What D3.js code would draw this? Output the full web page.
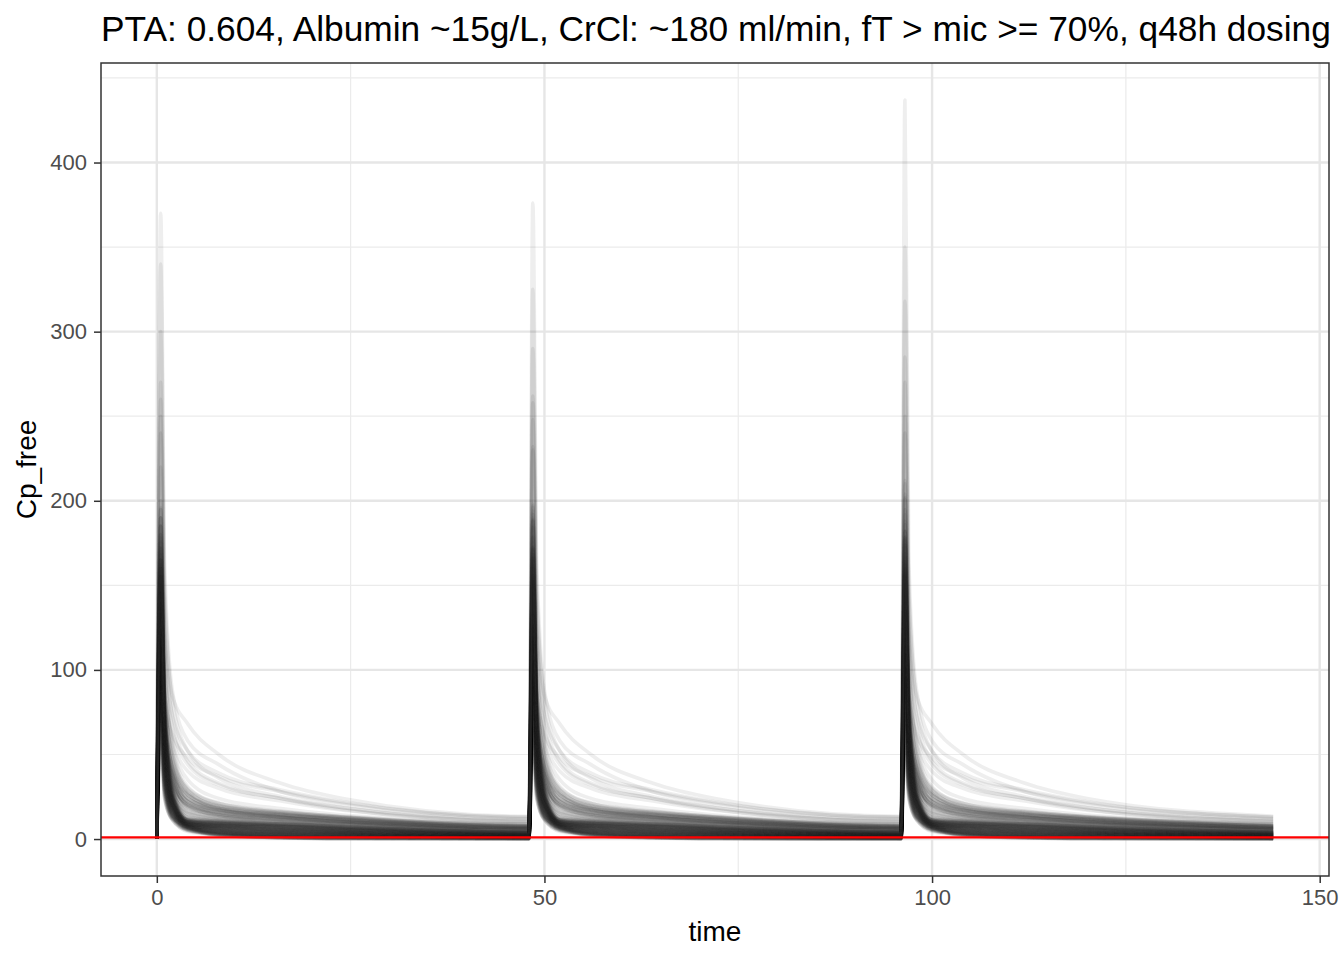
<!DOCTYPE html>
<html>
<head>
<meta charset="utf-8">
<script src="https://cdn.jsdelivr.net/npm/d3@7"></script>
<style>
  html, body { margin: 0; padding: 0; background: #ffffff; }
  svg { display: block; font-family: "Liberation Sans", Arial, Helvetica, sans-serif; }
</style>
</head>
<body>
<svg id="chart" width="1344" height="960"></svg>
<script>
// ---------------- data ----------------
const chartTitle = "PTA: 0.604, Albumin ~15g/L, CrCl: ~180 ml/min, fT > mic >= 70%, q48h dosing";
const xLabel = "time";
const yLabel = "Cp_free";
const doseTimes = [0, 48, 96];               // q48h dosing
const infusionHours = 0.5;                   // peak time after each dose
const sampleHours = [1, 2, 4, 8, 16, 24, 48]; // hours after dose
const micValue = 1;
const xTicks = [0, 50, 100, 150];
const yTicks = [0, 100, 200, 300, 400];

// peak free concentration of each simulated subject, per dose
const peakDose1 = [62,118,145,88,170,104,132,76, 95,150,70,126,180,110,58,138, 128,84,160,100,66,142,115,190,
  108,74,135,155,92,122,168,80, 148,98,60,130,112,176,86,140, 82,125,158,102,144,68,120,196,
  136,90,114,165,78,150,106,128, 72,146,124,96,185,116,154,64, 118,160,88,140,105,132,74,172,
  94,128,152,70,118,200,100,142, 150,84,112,134,162,96,124,56, 106,138,78,156,122,90,178,130,
  130,150,110,165,145,120,158,100,140,165,135,115,155,140,125,175,130,150,105,160,145,130,162,138,
  180,150,185,135,240,165,195,125,190,170,260,145,172,155,185,195,
  270,370,220,300,190,340,250,160];
const peakDose2 = [68,110,149,83,179,101,139,70, 101,142,74,121,189,107,65,132, 134,76,164,95,75,139,122,184,
  114,66,139,150,101,119,175,74, 154,90,64,125,121,173,93,134, 88,117,162,97,153,65,127,190,
  142,82,118,160,87,147,113,122, 78,138,128,91,194,113,161,58, 124,152,92,135,114,129,81,166,
  100,120,156,65,127,197,107,136, 156,76,116,129,171,93,131,50, 112,130,82,151,131,87,185,124,
  136,144,116,158,152,114,166,106,134,172,129,121,148,146,119,168,136,143,111,154,152,124,170,132,
  172,158,178,142,232,171,188,132,196,164,248,150,166,148,192,188,
  262,376,230,290,198,325,258,168];
const peakDose3 = [57,125,136,92,164,114,128,81, 90,157,61,130,174,120,54,143, 123,91,151,104,60,152,111,195,
  103,81,126,159,86,132,164,85, 143,105,51,134,106,186,82,145, 77,132,149,106,138,78,116,201,
  131,97,105,169,72,160,102,133, 67,153,115,100,179,126,150,69, 113,167,79,144,99,142,70,177,
  89,135,143,74,112,210,96,147, 145,91,103,138,156,106,120,61, 101,145,69,160,116,100,174,135,
  124,156,104,172,138,126,150,95,146,158,141,109,162,134,131,182,124,157,99,166,138,136,154,144,
  188,144,192,128,250,158,204,118,182,176,270,139,178,162,178,202,
  285,437,212,318,182,350,240,155];

// concentrations after each dose (same subject order)
const conc1h = [26,50,61,37,71,44,55,32, 40,63,29,53,76,46,24,58, 54,35,67,42,28,60,48,80,
  45,31,57,65,39,51,71,34, 62,41,25,55,47,74,36,59, 34,53,66,43,60,29,50,82,
  57,38,48,69,33,63,45,54, 30,61,52,40,78,49,65,27, 50,67,37,59,44,55,31,72,
  39,54,64,29,50,84,42,60, 63,35,47,56,68,40,52,24, 45,58,33,66,51,38,75,55,
  58,68,52,74,65,56,71,50,64,74,63,56,70,64,60,78,62,68,54,72,66,62,73,65,
  82,70,86,64,108,78,90,60,88,80,115,69,82,74,86,90,
  128,165,112,145,98,150,120,86];
const conc2h = [11.7,19.5,23.3,15.3,26.8,17.6,21.5,13.6, 16.3,24,12.8,20.6,28.2,18.4,11.1,22.3,
  20.9,14.8,25.4,17,12.2,22.9,19.1,29.6, 18.1,13.4,21.9,24.7,15.9,20.1,26.5,14.2,
  23.7,16.7,11.4,21.2,18.7,27.6,15,22.6, 14.5,20.5,25.1,17.3,23.2,12.5,19.8,30.4,
  22,15.6,19,26.1,13.9,24,17.8,20.9, 13.1,23.4,20.4,16.4,28.9,19.2,24.6,12,
  19.5,25.4,15.3,22.6,17.7,21.5,13.4,27.1, 16.2,20.9,24.3,12.8,19.5,31,17,22.9,
  24,14.8,18.7,21.8,25.7,16.4,20.4,11.9, 17.8,22.3,13.9,24.8,20.1,15.6,27.9,21.2,
  26,30,25,34,29,28,34,27,33,38,31,30,37,34,32,42,35,38,32,42,39,36,43,40,
  40,36,48,34,53,41,46,33,50,43,56,38,50,42,47,58,
  72,88,66,85,60,82,74,62];
const conc4h = [4.46,6.18,7.05,5.35,7.87,5.94,6.81,5.19, 5.78,7.49,5.15,6.84,8.53,6.47,4.94,7.41,
  7.15,5.86,8.21,6.45,5.47,7.81,7.06,9.33, 6.93,5.98,7.85,8.48,6.66,7.6,9.04,6.44,
  8.55,7.09,6.02,8.15,7.68,9.64,6.98,8.66, 6.99,8.32,9.38,7.73,9.06,6.82,8.45,10.76,
  9.03,7.69,8.48,10.04,7.5,9.73,8.45,9.18, 7.53,9.82,9.23,8.43,11.17,9.13,10.34,7.71,
  9.37,10.7,8.61,10.2,9.22,10.1,8.43,11.41, 9.14,10.23,10.98,8.59,10.1,12.63,9.7,11,
  11.31,9.4,10.31,11,11.91,10,10.91,8.91, 10.48,11.51,9.78,12.19,11.24,10.35,13.06,11.69,
  13,14,14.5,15.5,15,16,17,16.5,18,19,18.5,19,20,20.5,20,22,22,22.5,21,24,24,23.5,26,26,
  22,20,27,19.5,29,24,26,21,28,26,31,23,30,27,29,35,
  46,58,44,68,40,52,52,48];
const conc8h = [2.14,2.2,2.3,2.33,2.43,2.52,2.58,2.68, 2.73,2.83,2.93,2.96,3.08,3.15,3.21,3.34,
  3.4,3.46,3.59,3.65,3.74,3.84,3.94,3.99, 4.09,4.22,4.28,4.34,4.47,4.53,4.66,4.72,
  4.85,4.91,5.04,5.1,5.23,5.29,5.38,5.48, 5.6,5.67,5.79,5.86,5.98,6.05,6.17,6.23,
  6.36,6.42,6.55,6.61,6.74,6.86,6.93,7.05, 6.9,7.24,7.37,7.43,7.56,7.62,7.75,7.1,
  7.94,8.06,7.9,8.25,8.38,8.5,7.75,8.69, 8.4,8.94,9.01,7.9,9.26,9.38,8.9,9.57,
  9.7,8.65,9.5,10.01,10.14,9.2,10,8.2, 9.6,10.6,9,10.96,10.3,9.5,11.34,10.75,
  10.5,11,11.5,12,12.2,12.8,13,13.2,13.8,14,14.3,14.8,15,15.5,15.8,16,16.5,17,17,17.5,18,18.2,19,19.5,
  15,14,18,14.5,19,17,17.5,16,19.5,18.5,21,17.2,21.5,20,21,24,
  33,44,32,50,30,36,39,37];
const conc16h = [0.58,0.63,0.73,0.75,0.84,0.93,0.99,1.08, 1.13,1.22,1.31,1.34,1.45,1.51,1.57,1.69,
  1.75,1.8,1.92,1.98,2.06,2.16,2.25,2.3, 2.39,2.51,2.56,2.62,2.74,2.8,2.92,2.97,
  3.09,3.15,3.27,3.33,3.44,3.5,3.58,3.68, 3.79,3.85,3.97,4.03,4.14,4.2,4.32,4.38,
  4.5,4.55,4.67,4.73,4.85,4.96,5.02,5.14, 5.2,5.31,5.43,5.49,5.61,5.67,5.78,5.9,
  5.96,6.07,6.19,6.25,6.37,6.48,6.6,6.66, 6.78,6.89,6.95,7.07,7.19,7.3,7.42,7.48,
  7.6,7.71,7.83,7.89,8.01,8.12,8.24,7.5, 8.41,8.53,8.65,8.77,8.88,9,9.12,9.23,
  8.6,9,9.4,9.8,10,10.4,10.6,10.8,11.2,11.4,11.7,12,12.2,12.6,12.9,13,13.4,13.8,14,14.2,14.6,15,15.4,16,
  11.5,10.5,13.2,11.2,14,13,12.8,12.6,14.8,14.5,15.8,13.6,16.5,15.7,16.2,18,
  24,28,24,33,22.5,25,29,28];
const conc24h = [0.15,0.2,0.28,0.3,0.38,0.45,0.5,0.58, 0.62,0.7,0.78,0.8,0.9,0.95,1,1.1,
  1.15,1.2,1.3,1.35,1.42,1.5,1.58,1.62, 1.7,1.8,1.85,1.9,2,2.05,2.15,2.2,
  2.3,2.35,2.45,2.5,2.6,2.65,2.72,2.8, 2.9,2.95,3.05,3.1,3.2,3.25,3.35,3.4,
  3.5,3.55,3.65,3.7,3.8,3.9,3.95,4.05, 4.1,4.2,4.3,4.35,4.45,4.5,4.6,4.7,
  4.75,4.85,4.95,5,5.1,5.2,5.3,5.35, 5.45,5.55,5.6,5.7,5.8,5.9,6,6.05,
  6.15,6.25,6.35,6.4,6.5,6.6,6.7,6.75, 6.85,6.95,7.05,7.15,7.25,7.35,7.45,7.55,
  7.4,7.8,8,8.3,8.5,8.8,9,9.2,9.4,9.6,9.9,10.2,10.4,10.6,10.9,11,11.3,11.6,11.9,12,12.4,12.7,13,13.5,
  9,8.2,10.3,8.9,11,10.4,9.8,10.2,11.8,11.7,12.4,11.1,13,12.7,13.2,14.2,
  17.5,20.5,18.5,24,17,18.5,22,21.5];
const conc48h = [0.04,0.06,0.11,0.12,0.17,0.21,0.24,0.28, 0.3,0.35,0.39,0.41,0.46,0.49,0.52,0.58,
  0.61,0.63,0.69,0.72,0.76,0.8,0.85,0.87, 0.92,0.98,1,1.03,1.09,1.12,1.18,1.2,
  1.26,1.29,1.35,1.38,1.43,1.46,1.5,1.55, 1.6,1.63,1.69,1.72,1.77,1.8,1.86,1.89,
  1.95,1.97,2.03,2.06,2.12,2.17,2.2,2.26, 2.29,2.34,2.4,2.43,2.49,2.52,2.57,2.63,
  2.66,2.71,2.77,2.8,2.86,2.91,2.97,3, 3.06,3.11,3.14,3.2,3.26,3.31,3.37,3.4,
  3.46,3.51,3.57,3.6,3.66,3.71,3.77,3.8, 3.85,3.91,3.97,4.03,4.08,4.14,4.2,4.25,
  4.3,4.5,4.7,4.9,5,5.2,5.3,5.5,5.6,5.7,5.9,6.1,6.2,6.4,6.6,6.6,6.8,7,7.3,7.3,7.6,7.9,8,8.4,
  5.6,5.2,6.4,5.8,6.9,6.8,6,6.9,7.6,7.9,7.9,7.6,8.7,8.8,9,9.5,
  10.2,12,11.5,13.5,10.8,10.5,13,12.8];

// ---------------- build subject profiles ----------------
const peaksByDose = [peakDose1, peakDose2, peakDose3];
const concBySample = [conc1h, conc2h, conc4h, conc8h, conc16h, conc24h, conc48h];
const subjects = peakDose1.map((_, i) => {
  const pts = [{t: 0, c: 0}];
  doseTimes.forEach((d, k) => {
    pts.push({t: d + infusionHours, c: peaksByDose[k][i]});
    sampleHours.forEach((h, j) => pts.push({t: d + h, c: concBySample[j][i]}));
  });
  return pts;
});

// ---------------- layout ----------------
const P = {left: 101, right: 1329, top: 63, bottom: 876};
const allT = subjects.flat().map(p => p.t);
const allC = subjects.flat().map(p => p.c);
const tMin = d3.min(allT), tMax = d3.max(allT);
const cMin = d3.min(allC), cMax = d3.max(allC);
const tPad = (tMax - tMin) * 0.05, cPad = (cMax - cMin) * 0.05;

const x = d3.scaleLinear().domain([tMin - tPad, tMax + tPad]).range([P.left, P.right]);
const y = d3.scaleLinear().domain([cMin - cPad, cMax + cPad]).range([P.bottom, P.top]);

const svg = d3.select("#chart");

svg.append("defs").append("clipPath").attr("id", "panel")
  .append("rect").attr("x", P.left).attr("y", P.top)
  .attr("width", P.right - P.left).attr("height", P.bottom - P.top);

svg.append("rect").attr("x", P.left).attr("y", P.top)
  .attr("width", P.right - P.left).attr("height", P.bottom - P.top)
  .attr("fill", "#ffffff");

// grid
const grid = svg.append("g").attr("clip-path", "url(#panel)");
const xMinor = [25, 75, 125];
const yMinor = [50, 150, 250, 350, 450];
grid.selectAll(".xminor").data(xMinor).enter().append("line")
  .attr("x1", d => x(d)).attr("x2", d => x(d)).attr("y1", P.top).attr("y2", P.bottom)
  .attr("stroke", "#ebebeb").attr("stroke-width", 1.2);
grid.selectAll(".yminor").data(yMinor).enter().append("line")
  .attr("y1", d => y(d)).attr("y2", d => y(d)).attr("x1", P.left).attr("x2", P.right)
  .attr("stroke", "#ebebeb").attr("stroke-width", 1.2);
grid.selectAll(".xmajor").data(xTicks).enter().append("line")
  .attr("x1", d => x(d)).attr("x2", d => x(d)).attr("y1", P.top).attr("y2", P.bottom)
  .attr("stroke", "#e6e6e6").attr("stroke-width", 2.4);
grid.selectAll(".ymajor").data(yTicks).enter().append("line")
  .attr("y1", d => y(d)).attr("y2", d => y(d)).attr("x1", P.left).attr("x2", P.right)
  .attr("stroke", "#e6e6e6").attr("stroke-width", 2.4);

// concentration lines
const line = d3.line().x(d => x(d.t)).y(d => y(d.c)).curve(d3.curveMonotoneX);
svg.append("g").attr("clip-path", "url(#panel)")
  .selectAll("path").data(subjects).enter().append("path")
  .attr("d", line)
  .attr("fill", "none")
  .attr("stroke", "#262626")
  .attr("stroke-opacity", 0.08)
  .attr("stroke-width", 3.6)
  .attr("stroke-linejoin", "round");

// MIC line
svg.append("line")
  .attr("x1", P.left).attr("x2", P.right)
  .attr("y1", y(micValue)).attr("y2", y(micValue))
  .attr("stroke", "#ff0000").attr("stroke-width", 2.4);

// panel border
svg.append("rect").attr("x", P.left).attr("y", P.top)
  .attr("width", P.right - P.left).attr("height", P.bottom - P.top)
  .attr("fill", "none").attr("stroke", "#333333").attr("stroke-width", 1.5);

// axes
const xAxis = d3.axisBottom(x).tickValues(xTicks).tickSize(7).tickPadding(6).tickFormat(d3.format("d"));
const yAxis = d3.axisLeft(y).tickValues(yTicks).tickSize(7).tickPadding(7).tickFormat(d3.format("d"));

const gx = svg.append("g").attr("transform", `translate(0,${P.bottom})`).call(xAxis);
const gy = svg.append("g").attr("transform", `translate(${P.left},0)`).call(yAxis);
[gx, gy].forEach(g => {
  g.select(".domain").remove();
  g.selectAll(".tick line").attr("stroke", "#333333").attr("stroke-width", 1.5);
  g.selectAll(".tick text").attr("fill", "#4d4d4d")
    .style("font-size", "22px").style("font-family", "'Liberation Sans', Arial, sans-serif");
});
gx.selectAll(".tick text").attr("dy", "0.71em");

// titles
svg.append("text").attr("x", P.left).attr("y", 41)
  .attr("fill", "#000").style("font-size", "35.3px").text(chartTitle);
svg.append("text").attr("x", (P.left + P.right) / 2).attr("y", 941)
  .attr("text-anchor", "middle").attr("fill", "#000").style("font-size", "28px").text(xLabel);
svg.append("text").attr("transform", `translate(36,${(P.top + P.bottom) / 2}) rotate(-90)`)
  .attr("text-anchor", "middle").attr("fill", "#000").style("font-size", "28px").text(yLabel);
</script>
</body>
</html>
